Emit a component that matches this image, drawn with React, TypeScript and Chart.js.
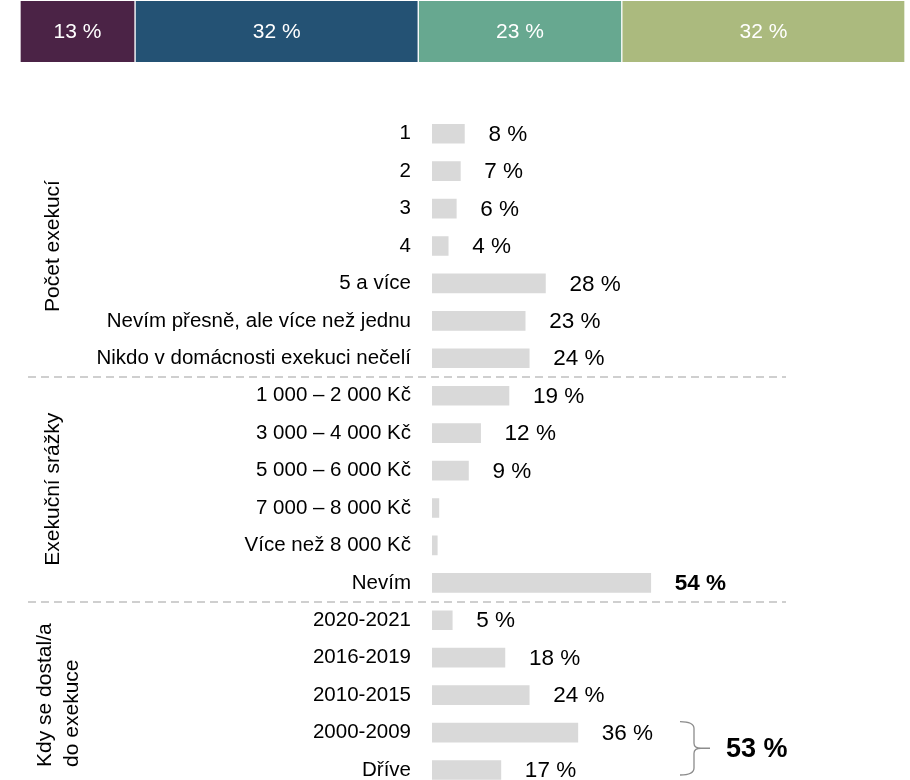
import React, { useEffect, useRef } from "react";
import { Chart, registerables } from "chart.js";

Chart.register(...registerables);

const FONT = "'Liberation Sans', Arial, sans-serif";

// Top stacked bar
const topValues = [13, 32, 23, 32];
const topLabels = ["13 %", "32 %", "23 %", "32 %"];
const topColors = ["#4B2346", "#245274", "#67A890", "#ABBA7E"];

// Lower bar chart
const categories = [
  "1",
  "2",
  "3",
  "4",
  "5 a více",
  "Nevím přesně, ale více než jednu",
  "Nikdo v domácnosti exekuci nečelí",
  "1 000 – 2 000 Kč",
  "3 000 – 4 000 Kč",
  "5 000 – 6 000 Kč",
  "7 000 – 8 000 Kč",
  "Více než 8 000 Kč",
  "Nevím",
  "2020-2021",
  "2016-2019",
  "2010-2015",
  "2000-2009",
  "Dříve",
];
const values = [8, 7, 6, 4, 28, 23, 24, 19, 12, 9, 1.7, 1.3, 54, 5, 18, 24, 36, 17];
const valueLabels = [
  "8 %", "7 %", "6 %", "4 %", "28 %", "23 %", "24 %",
  "19 %", "12 %", "9 %", "", "", "54 %",
  "5 %", "18 %", "24 %", "36 %", "17 %",
];
const boldRows = [12];
const groupNames = [["Počet exekucí"], ["Exekuční srážky"], ["Kdy se dostal/a", "do exekuce"]];
const groupStarts = [0, 7, 13];
const groupEnds = [6, 12, 17];
const bracketRows = [16, 17];
const bracketLabel = "53 %";

const topPlugin = {
  id: "topLabels",
  afterDatasetsDraw(chart: any) {
    const ctx = chart.ctx;
    ctx.save();
    ctx.fillStyle = "#ffffff";
    ctx.font = `21px ${FONT}`;
    ctx.textAlign = "center";
    ctx.textBaseline = "middle";
    chart.data.datasets.forEach((_ds: any, i: number) => {
      const el = chart.getDatasetMeta(i).data[0];
      if (!el) return;
      const cx = (el.x + el.base) / 2;
      ctx.fillText(topLabels[i], cx, el.y + 1);
    });
    ctx.restore();
  },
};

const lowerPlugin = {
  id: "lowerDecor",
  afterDatasetsDraw(chart: any) {
    const ctx = chart.ctx;
    const yScale = chart.scales.y;
    const meta = chart.getDatasetMeta(0);
    ctx.save();
    // value labels
    ctx.fillStyle = "#000";
    ctx.textAlign = "left";
    ctx.textBaseline = "middle";
    meta.data.forEach((el: any, i: number) => {
      const t = valueLabels[i];
      if (!t) return;
      ctx.font = `${boldRows.includes(i) ? "bold " : ""}22.5px ${FONT}`;
      ctx.fillText(t, el.x + 24, el.y + 1);
    });
    // separators
    ctx.strokeStyle = "#cfcfcf";
    ctx.lineWidth = 2;
    ctx.setLineDash([8, 5]);
    for (let g = 0; g < groupEnds.length - 1; g++) {
      const y = Math.round((yScale.getPixelForValue(groupEnds[g]) + yScale.getPixelForValue(groupStarts[g + 1])) / 2);
      ctx.beginPath();
      ctx.moveTo(28, y);
      ctx.lineTo(786, y);
      ctx.stroke();
    }
    ctx.setLineDash([]);
    // group labels
    ctx.fillStyle = "#000";
    ctx.font = `21px ${FONT}`;
    groupNames.forEach((lines, g) => {
      const cy = (yScale.getPixelForValue(groupStarts[g]) + yScale.getPixelForValue(groupEnds[g])) / 2;
      const lh = 27;
      const maxW = Math.max(...lines.map((l) => ctx.measureText(l).width));
      const x0 = lines.length > 1 ? 45 : 53;
      lines.forEach((l, k) => {
        ctx.save();
        ctx.translate(x0 + k * lh, cy + maxW / 2);
        ctx.rotate(-Math.PI / 2);
        ctx.textAlign = "left";
        ctx.textBaseline = "middle";
        ctx.fillText(l, 0, 0);
        ctx.restore();
      });
    });
    // bracket
    const yTop = yScale.getPixelForValue(bracketRows[0]) - 11;
    const yBot = yScale.getPixelForValue(bracketRows[1]) + 5;
    const mid = (yTop + yBot) / 2;
    const xa = 680;
    const xv = 694;
    const xt = 710;
    ctx.strokeStyle = "#8c8c8c";
    ctx.lineWidth = 1.3;
    ctx.beginPath();
    ctx.moveTo(xa, yTop);
    ctx.quadraticCurveTo(xv, yTop, xv, yTop + 7);
    ctx.lineTo(xv, mid - 5);
    ctx.quadraticCurveTo(xv, mid, xv + 7, mid);
    ctx.lineTo(xt, mid);
    ctx.moveTo(xv + 7, mid);
    ctx.quadraticCurveTo(xv, mid, xv, mid + 5);
    ctx.lineTo(xv, yBot - 7);
    ctx.quadraticCurveTo(xv, yBot, xa, yBot);
    ctx.stroke();
    ctx.fillStyle = "#000";
    ctx.font = `bold 27px ${FONT}`;
    ctx.textAlign = "left";
    ctx.textBaseline = "middle";
    ctx.fillText(bracketLabel, 726, mid + 1);
    ctx.restore();
  },
};

export default function App() {
  const topRef = useRef<HTMLCanvasElement>(null);
  const lowRef = useRef<HTMLCanvasElement>(null);

  useEffect(() => {
    Chart.defaults.font.family = FONT;
    const top = new Chart(topRef.current!, {
      type: "bar",
      data: {
        labels: [""],
        datasets: topValues.map((v, i) => ({
          data: [v],
          backgroundColor: topColors[i],
          borderColor: "#ffffff",
          borderWidth: { top: 0, bottom: 0, left: 1, right: 1 },
          borderSkipped: false,
          barPercentage: 1,
          categoryPercentage: 1,
        })),
      },
      options: {
        indexAxis: "y",
        responsive: false,
        animation: false,
        events: [],
        layout: { padding: { left: 20, right: 5, top: 1, bottom: 2 } },
        plugins: { legend: { display: false }, tooltip: { enabled: false } },
        scales: {
          x: { stacked: true, min: 0, max: 100, display: false },
          y: { stacked: true, display: false },
        },
      },
      plugins: [topPlugin],
    });

    const low = new Chart(lowRef.current!, {
      type: "bar",
      data: {
        labels: categories,
        datasets: [
          {
            data: values,
            backgroundColor: "#d9d9d9",
            barThickness: 19,
          },
        ],
      },
      options: {
        indexAxis: "y",
        responsive: false,
        animation: false,
        events: [],
        layout: { padding: { left: 0, right: 0, top: 115, bottom: 0 } },
        plugins: { legend: { display: false }, tooltip: { enabled: false } },
        scales: {
          x: { min: 0, max: 118, display: false },
          y: {
            grid: { display: false, drawTicks: false },
            border: { display: false },
            ticks: {
              autoSkip: false,
              padding: 21,
              color: "#000",
              font: { size: 20.5, family: FONT },
            },
            afterFit: (scale: any) => {
              scale.width = 432;
            },
          },
        },
      },
      plugins: [lowerPlugin],
    });

    return () => {
      top.destroy();
      low.destroy();
    };
  }, []);

  return (
    <div
      style={{
        position: "absolute",
        left: 0,
        top: 0,
        width: 910,
        height: 780,
        overflow: "hidden",
        background: "#fff",
      }}
    >
      <canvas
        ref={lowRef}
        width={910}
        height={822}
        style={{ position: "absolute", left: 0, top: 0, display: "block" }}
      />
      <canvas
        ref={topRef}
        width={910}
        height={64}
        style={{ position: "absolute", left: 0, top: 0, display: "block" }}
      />
    </div>
  );
}
